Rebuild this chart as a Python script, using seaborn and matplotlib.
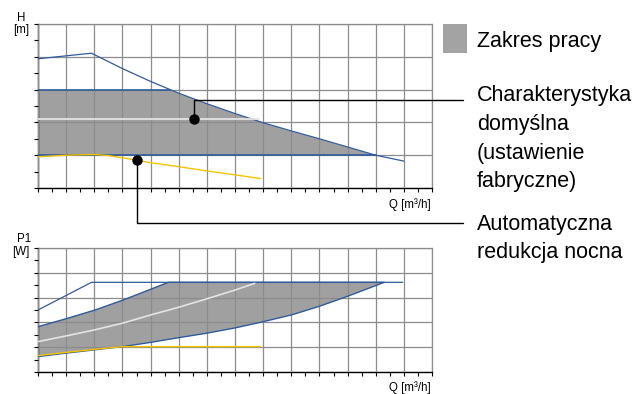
import matplotlib
matplotlib.use("Agg")
import matplotlib.pyplot as plt
from matplotlib.lines import Line2D
from matplotlib.patches import Rectangle
import seaborn as sns
import numpy as np

# ---------------- data (grid units) ----------------
# H(Q) diagram
h_max_q = [0, 1.9, 3, 4, 5, 6, 7, 8, 9, 10, 11, 12, 13]
h_max_h = [3.94, 4.11, 3.64, 3.25, 2.89, 2.57, 2.27, 1.99, 1.74, 1.5, 1.25, 1.0, 0.82]
band_q = [0, 4.7, 5, 6, 7, 8, 9, 10, 11, 12]
band_top = [3.0, 3.0, 2.89, 2.57, 2.27, 1.99, 1.74, 1.5, 1.25, 1.0]
band_bottom = 1.0
default_q = [0, 7.85]
default_h = [2.1, 2.1]
night_q = [0, 1, 2, 2.5, 3, 3.5, 4, 5, 6, 7, 7.9]
night_h = [0.95, 1.0, 1.02, 0.99, 0.92, 0.85, 0.77, 0.65, 0.52, 0.4, 0.29]
dot_default = (5.56, 2.1)
dot_default_corner = 2.68
dot_night = (3.5, 0.85)

# P1(Q) diagram
p_max_q = [0, 1.9, 12.96]
p_max_p = [2.5, 3.61, 3.61]
p_up_q = [0, 1, 2, 3, 4, 4.63, 12.3]
p_up_p = [1.83, 2.15, 2.49, 2.89, 3.33, 3.61, 3.61]
p_low_q = [0, 1, 2, 3, 4, 5, 6, 7, 8, 9, 10, 11, 12, 12.3]
p_low_p = [0.63, 0.77, 0.9, 1.03, 1.2, 1.39, 1.57, 1.78, 2.03, 2.3, 2.65, 3.05, 3.48, 3.61]
p_def_q = [0, 1, 2, 3, 4, 5, 6, 7, 7.7]
p_def_p = [1.23, 1.46, 1.7, 1.97, 2.3, 2.61, 2.95, 3.3, 3.57]
p_night_q = [0, 1, 2, 3, 7.9]
p_night_p = [0.67, 0.8, 0.92, 1.03, 1.03]

BLUE = "#2f5b9c"
YELLOW = "#f5c400"
FILL = "#a0a0a0"
WHITE_LINE = "#e4e4e4"
GRID = "#8c8c8c"

sns.set_theme(style="white")
plt.rcParams['font.family'] = ['Liberation Sans', 'DejaVu Sans']
plt.rcParams['text.color'] = 'black'

W, H = 637, 394
fig = plt.figure(figsize=(W / 100, H / 100), dpi=100)
ax_h = fig.add_axes([38 / W, 1 - 188 / H, 394 / W, 164 / H])
ax_p = fig.add_axes([38 / W, 1 - 372.3 / H, 394 / W, 124.6 / H])


def style_axes(ax):
    ax.set_xlim(0, 14)
    ax.set_ylim(0, 5)
    ax.set_xticks(np.arange(0, 15))
    ax.set_xticks(np.arange(0.5, 14, 1), minor=True)
    ax.set_yticks(np.arange(0, 6))
    ax.set_yticks(np.arange(0.5, 5, 1), minor=True)
    ax.tick_params(which='both', direction='out', length=3, width=0.8, color='black',
                   bottom=True, left=True, top=False, right=False,
                   labelbottom=False, labelleft=False)
    ax.grid(True, which='major', color=GRID, linewidth=0.9)
    ax.set_axisbelow(False)
    for s in ['top', 'right']:
        ax.spines[s].set_color(GRID)
        ax.spines[s].set_linewidth(0.9)
    for s in ['left', 'bottom']:
        ax.spines[s].set_color('black')
        ax.spines[s].set_linewidth(1.0)


def curve(ax, x, y, color, lw):
    sns.lineplot(x=x, y=y, ax=ax, color=color, linewidth=lw, sort=False,
                 estimator=None, zorder=3)


# ---------------- H(Q) ----------------
style_axes(ax_h)
ax_h.fill_between(band_q, band_top, band_bottom, color=FILL, linewidth=0, zorder=1)
curve(ax_h, [band_q[0], band_q[1]], [band_top[0], band_top[1]], BLUE, 1.2)
curve(ax_h, [band_q[0], band_q[-1]], [band_bottom, band_bottom], BLUE, 1.2)
curve(ax_h, h_max_q, h_max_h, BLUE, 0.9)
curve(ax_h, default_q, default_h, WHITE_LINE, 1.3)
curve(ax_h, night_q, night_h, YELLOW, 1.0)

# ---------------- P1(Q) ----------------
style_axes(ax_p)
ax_p.fill(p_up_q + p_low_q[::-1], p_up_p + p_low_p[::-1], color=FILL, linewidth=0, zorder=1)
curve(ax_p, p_max_q, p_max_p, BLUE, 0.9)
curve(ax_p, p_up_q, p_up_p, BLUE, 1.0)
curve(ax_p, p_low_q, p_low_p, BLUE, 1.0)
curve(ax_p, p_def_q, p_def_p, WHITE_LINE, 1.2)
curve(ax_p, p_night_q, p_night_p, YELLOW, 1.0)

# axis captions
small = 8.3
fig.text(21 / W, 1 - 20.7 / H, "H", ha='center', va='baseline', fontsize=small)
fig.text(21 / W, 1 - 32.5 / H, "[m]", ha='center', va='baseline', fontsize=small)
fig.text(24 / W, 1 - 241.7 / H, "P1", ha='center', va='baseline', fontsize=small)
fig.text(21 / W, 1 - 254.5 / H, "[W]", ha='center', va='baseline', fontsize=small)
fig.text(431 / W, 1 - 208.5 / H, "Q [m³/h]", ha='right', va='baseline', fontsize=small)
fig.text(431 / W, 1 - 391.5 / H, "Q [m³/h]", ha='right', va='baseline', fontsize=small)

# ---------------- callouts ----------------
to_fig = fig.transFigure.inverted()


def fig_xy(ax, x, y):
    return to_fig.transform(ax.transData.transform((x, y)))


line_end = 463 / W
x0, y0 = fig_xy(ax_h, *dot_default)
_, y1 = fig_xy(ax_h, dot_default[0], dot_default_corner)
fig.add_artist(Line2D([x0, x0, line_end], [y0, y1, y1], transform=fig.transFigure,
                      color='black', linewidth=1.0))
x0, y0 = fig_xy(ax_h, *dot_night)
y_night = 1 - 223 / H
fig.add_artist(Line2D([x0, x0, line_end], [y0, y_night, y_night], transform=fig.transFigure,
                      color='black', linewidth=1.0))
for pt in [dot_default, dot_night]:
    ax_h.plot(pt[0], pt[1], 'o', color='black', markersize=6.5, zorder=6, clip_on=False)

# legend / labels (multi-line texts anchored on the baseline of their last line)
label_x = 477 / W
fig.add_artist(Rectangle((443.3 / W, 1 - 53.3 / H), 23.4 / W, 29.3 / H,
                         transform=fig.transFigure, color="#a3a3a3", linewidth=0))
big = 15.5
spacing = 1.48
fig.text(label_x, 1 - 46.7 / H, "Zakres pracy", fontsize=big, va='baseline')
fig.text(label_x, 1 - 187.3 / H, "Charakterystyka\ndomyślna\n(ustawienie\nfabryczne)",
         fontsize=big, va='baseline', linespacing=spacing)
fig.text(label_x, 1 - 258.3 / H, "Automatyczna\nredukcja nocna",
         fontsize=big, va='baseline', linespacing=spacing)

fig.savefig("out.png", dpi=100)
